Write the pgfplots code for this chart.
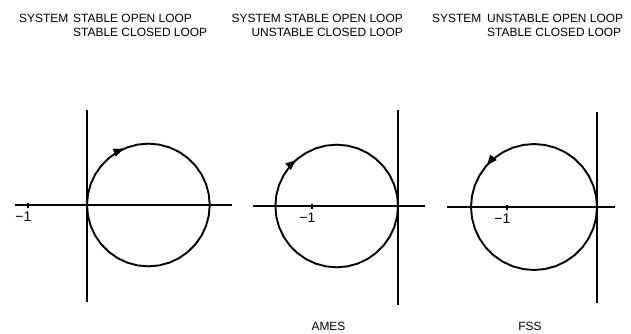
\documentclass[border=0pt]{standalone}
\usepackage{fontspec}
\setmainfont{Liberation Sans}
\usepackage{pgfplots}
\pgfplotsset{compat=1.18}
\usetikzlibrary{arrows.meta}

% Shared look of the three Nyquist sketches
\pgfplotsset{
  nyq/.style={
    anchor=origin,
    axis lines=middle,
    axis line style={-, line width=2.4bp, black},
    enlargelimits=false,
    clip=false,
    xtick={-1}, xticklabels={−1},
    ytick=\empty,
    major tick length=5bp,
    tick align=center,
    tick style={line width=1.3bp, black},
    xticklabel style={anchor=north east, inner sep=0pt, xshift=3.5bp, yshift=-4bp,
      font=\fontsize{14}{16}\selectfont},
    /pgf/number format/assume math mode=true,
  },
  curve/.style={black, line width=1.9bp, mark=none},
  tip/.style={black, line width=1.9bp, mark=none, -{Latex[length=12bp,width=9bp]}},
}

\begin{document}
\begin{tikzpicture}[x=1bp, y=1bp]
\path[use as bounding box] (0,0) rectangle (631,333);

\begin{scope}[every node/.style={inner sep=0pt, font=\fontsize{12}{14}\selectfont}]
  % headings
  \node[anchor=base west] at (19,310.5) {SYSTEM};
  \node[anchor=base west] at (73,310.5) {STABLE OPEN LOOP};
  \node[anchor=base west] at (73,297) {STABLE CLOSED LOOP};
  \node[anchor=base east] at (403,310.5) {SYSTEM STABLE OPEN LOOP};
  \node[anchor=base east] at (403,297) {UNSTABLE CLOSED LOOP};
  \node[anchor=base west] at (432,310.5) {SYSTEM};
  \node[anchor=base west] at (487,310.5) {UNSTABLE OPEN LOOP};
  \node[anchor=base west] at (487,297) {STABLE CLOSED LOOP};
  % captions
  \node[anchor=base] at (328.5,3) {AMES};
  \node[anchor=base] at (530,3) {FSS};
\end{scope}

% ---- stable open loop, stable closed loop
\begin{axis}[nyq, at={(87bp,128bp)}, x=59bp, y=59bp,
  xmin=-1.22, xmax=2.46, ymin=-1.64, ymax=1.61]
\addplot[curve] coordinates {
 (2.08,0) (2.0642,0.1805) (2.0173,0.3557) (1.9406,0.52) (1.8366,0.6685)
 (1.7085,0.7966) (1.56,0.9006) (1.3957,0.9773) (1.2205,1.0242) (1.04,1.04)
 (0.8595,1.0242) (0.6843,0.9773) (0.52,0.9006) (0.3715,0.7966) (0.2434,0.6685)
 (0.1394,0.52) (0.0627,0.3557) (0.0158,0.1805) (0,0)
 (0.0158,-0.1805) (0.0627,-0.3557) (0.1394,-0.52) (0.2434,-0.6685) (0.3715,-0.7966)
 (0.52,-0.9006) (0.6843,-0.9773) (0.8595,-1.0242) (1.04,-1.04) (1.2205,-1.0242)
 (1.3957,-0.9773) (1.56,-0.9006) (1.7085,-0.7966) (1.8366,-0.6685) (1.9406,-0.52)
 (2.0173,-0.3557) (2.0642,-0.1805) (2.08,0)};
\addplot[tip] coordinates {(0.6036,0.9456) (0.650,0.9643)};
\end{axis}

% ---- stable open loop, unstable closed loop
\begin{axis}[nyq, at={(398bp,127bp)}, x=86bp, y=86bp,
  xmin=-1.69, xmax=0.31, ymin=-1.15, ymax=1.12]
\addplot[curve] coordinates {
 (0,0) (-0.0108,0.1238) (-0.043,0.2438) (-0.0955,0.3565) (-0.1668,0.4583)
 (-0.2547,0.5462) (-0.3565,0.6175) (-0.4692,0.67) (-0.5892,0.7022) (-0.713,0.713)
 (-0.8368,0.7022) (-0.9568,0.67) (-1.0695,0.6175) (-1.1713,0.5462) (-1.2592,0.4583)
 (-1.3305,0.3565) (-1.383,0.2438) (-1.4152,0.1238) (-1.426,0)
 (-1.4152,-0.1238) (-1.383,-0.2438) (-1.3305,-0.3565) (-1.2592,-0.4583) (-1.1713,-0.5462)
 (-1.0695,-0.6175) (-0.9568,-0.67) (-0.8368,-0.7022) (-0.713,-0.713) (-0.5892,-0.7022)
 (-0.4692,-0.67) (-0.3565,-0.6175) (-0.2547,-0.5462) (-0.1668,-0.4583) (-0.0955,-0.3565)
 (-0.043,-0.2438) (-0.0108,-0.1238) (0,0)};
\addplot[tip] coordinates {(-1.2096,0.5141) (-1.1713,0.5462)};
\end{axis}

% ---- unstable open loop, stable closed loop
\begin{axis}[nyq, at={(597bp,126bp)}, x=90bp, y=90bp,
  xmin=-1.67, xmax=0.20, ymin=-1.07, ymax=1.06]
\addplot[curve] coordinates {
 (0,0) (-0.0106,0.1215) (-0.0422,0.2394) (-0.0938,0.35) (-0.1638,0.45)
 (-0.25,0.5362) (-0.35,0.6062) (-0.4606,0.6578) (-0.5785,0.6894) (-0.7,0.7)
 (-0.8215,0.6894) (-0.9394,0.6578) (-1.05,0.6062) (-1.15,0.5362) (-1.2362,0.45)
 (-1.3062,0.35) (-1.3578,0.2394) (-1.3894,0.1215) (-1.4,0)
 (-1.3894,-0.1215) (-1.3578,-0.2394) (-1.3062,-0.35) (-1.2362,-0.45) (-1.15,-0.5362)
 (-1.05,-0.6062) (-0.9394,-0.6578) (-0.8215,-0.6894) (-0.7,-0.7) (-0.5785,-0.6894)
 (-0.4606,-0.6578) (-0.35,-0.6062) (-0.25,-0.5362) (-0.1638,-0.45) (-0.0938,-0.35)
 (-0.0422,-0.2394) (-0.0106,-0.1215) (0,0)};
\addplot[tip] coordinates {(-1.2041,0.4883) (-1.2362,0.45)};
\end{axis}
\end{tikzpicture}
\end{document}
